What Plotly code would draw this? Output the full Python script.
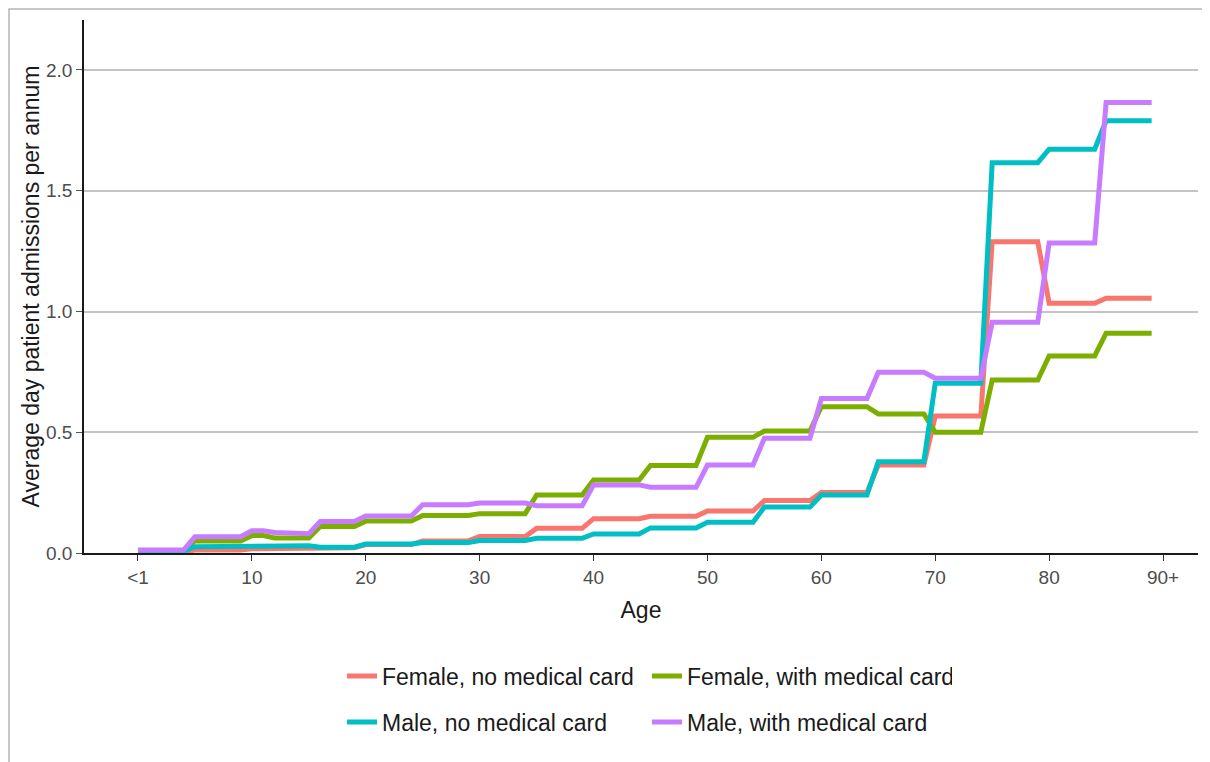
import plotly.graph_objects as go

AGES = list(range(90))
X_TICK_VALS = [0, 10, 20, 30, 40, 50, 60, 70, 80, 90]
X_TICK_TEXT = ["<1", "10", "20", "30", "40", "50", "60", "70", "80", "90+"]
Y_TICK_VALS = [0.0, 0.5, 1.0, 1.5, 2.0]
Y_TICK_TEXT = ["0.0", "0.5", "1.0", "1.5", "2.0"]

SERIES_NAMES = [
    "Female, no medical card",
    "Female, with medical card",
    "Male, no medical card",
    "Male, with medical card",
]
SERIES_COLORS = ["#F8766D", "#7CAE00", "#00BFC4", "#C77CFF"]

female_no_card = [
    0.005, 0.005, 0.005, 0.005, 0.005,
    0.012, 0.012, 0.012, 0.012, 0.012,
    0.018, 0.018, 0.018, 0.018, 0.018, 0.018,
    0.022, 0.022, 0.022, 0.022,
    0.035, 0.035, 0.035, 0.035, 0.035,
    0.050, 0.050, 0.050, 0.050, 0.050,
    0.068, 0.068, 0.068, 0.068, 0.068,
    0.102, 0.102, 0.102, 0.102, 0.102,
    0.142, 0.142, 0.142, 0.142, 0.142,
    0.152, 0.152, 0.152, 0.152, 0.152,
    0.174, 0.174, 0.174, 0.174, 0.174,
    0.217, 0.217, 0.217, 0.217, 0.217,
    0.250, 0.250, 0.250, 0.250, 0.250,
    0.364, 0.364, 0.364, 0.364, 0.364,
    0.567, 0.567, 0.567, 0.567, 0.567,
    1.289, 1.289, 1.289, 1.289, 1.289,
    1.034, 1.034, 1.034, 1.034, 1.034,
    1.055, 1.055, 1.055, 1.055, 1.055,
]

female_with_card = [
    0.010, 0.010, 0.010, 0.010, 0.010,
    0.050, 0.050, 0.050, 0.050, 0.050,
    0.072, 0.072, 0.062, 0.062, 0.062, 0.062,
    0.110, 0.110, 0.110, 0.110,
    0.132, 0.132, 0.132, 0.132, 0.132,
    0.155, 0.155, 0.155, 0.155, 0.155,
    0.163, 0.163, 0.163, 0.163, 0.163,
    0.240, 0.240, 0.240, 0.240, 0.240,
    0.302, 0.302, 0.302, 0.302, 0.302,
    0.362, 0.362, 0.362, 0.362, 0.362,
    0.479, 0.479, 0.479, 0.479, 0.479,
    0.505, 0.505, 0.505, 0.505, 0.505,
    0.606, 0.606, 0.606, 0.606, 0.606,
    0.576, 0.576, 0.576, 0.576, 0.576,
    0.500, 0.500, 0.500, 0.500, 0.500,
    0.716, 0.716, 0.716, 0.716, 0.716,
    0.816, 0.816, 0.816, 0.816, 0.816,
    0.910, 0.910, 0.910, 0.910, 0.910,
]

male_no_card = [
    0.008, 0.008, 0.008, 0.008, 0.008,
    0.026, 0.026, 0.026, 0.026, 0.026,
    0.030, 0.030, 0.030, 0.030, 0.030, 0.030,
    0.024, 0.024, 0.024, 0.024,
    0.037, 0.037, 0.037, 0.037, 0.037,
    0.043, 0.043, 0.043, 0.043, 0.043,
    0.052, 0.052, 0.052, 0.052, 0.052,
    0.061, 0.061, 0.061, 0.061, 0.061,
    0.079, 0.079, 0.079, 0.079, 0.079,
    0.104, 0.104, 0.104, 0.104, 0.104,
    0.127, 0.127, 0.127, 0.127, 0.127,
    0.190, 0.190, 0.190, 0.190, 0.190,
    0.240, 0.240, 0.240, 0.240, 0.240,
    0.378, 0.378, 0.378, 0.378, 0.378,
    0.703, 0.703, 0.703, 0.703, 0.703,
    1.616, 1.616, 1.616, 1.616, 1.616,
    1.672, 1.672, 1.672, 1.672, 1.672,
    1.790, 1.790, 1.790, 1.790, 1.790,
]

male_with_card = [
    0.012, 0.012, 0.012, 0.012, 0.012,
    0.067, 0.067, 0.067, 0.067, 0.067,
    0.092, 0.092, 0.085, 0.085, 0.085, 0.080,
    0.130, 0.130, 0.130, 0.130,
    0.153, 0.153, 0.153, 0.153, 0.153,
    0.200, 0.200, 0.200, 0.200, 0.200,
    0.207, 0.207, 0.207, 0.207, 0.207,
    0.196, 0.196, 0.196, 0.196, 0.196,
    0.282, 0.282, 0.282, 0.282, 0.282,
    0.272, 0.272, 0.272, 0.272, 0.272,
    0.364, 0.364, 0.364, 0.364, 0.364,
    0.475, 0.475, 0.475, 0.475, 0.475,
    0.640, 0.640, 0.640, 0.640, 0.640,
    0.748, 0.748, 0.748, 0.748, 0.748,
    0.724, 0.724, 0.724, 0.724, 0.724,
    0.955, 0.955, 0.955, 0.955, 0.955,
    1.284, 1.284, 1.284, 1.284, 1.284,
    1.865, 1.865, 1.865, 1.865, 1.865,
]

SERIES_VALUES = [female_no_card, female_with_card, male_no_card, male_with_card]
LEGEND_GROUP = ["legend", "legend", "legend2", "legend2"]

FONT = "Liberation Sans, Arial, Helvetica, sans-serif"

fig = go.Figure()
for name, vals, color, lg in zip(SERIES_NAMES, SERIES_VALUES, SERIES_COLORS, LEGEND_GROUP):
    fig.add_trace(go.Scatter(
        x=AGES, y=vals, mode="lines", name=name,
        line=dict(color=color, width=5),
        legend=lg,
    ))

legend_common = dict(
    orientation="h", xanchor="left", yanchor="middle",
    entrywidth=260, entrywidthmode="pixels",
    font=dict(family=FONT, size=23, color="#1a1a1a"),
    bgcolor="rgba(0,0,0,0)", borderwidth=0,
)

# The page adds an 8px body margin, so the figure is sized to fit the window.
fig.update_layout(
    width=1202, height=754,
    margin=dict(l=76, r=12, t=12, b=209),
    paper_bgcolor="white", plot_bgcolor="white",
    font=dict(family=FONT),
    legend=dict(x=0.2316, y=-0.2308, **legend_common),
    legend2=dict(x=0.2316, y=-0.317, **legend_common),
    xaxis=dict(
        range=[-4.74, 93.07], tickmode="array",
        tickvals=X_TICK_VALS, ticktext=X_TICK_TEXT,
        showgrid=False, zeroline=False,
        showline=True, linecolor="#1a1a1a", linewidth=1.5,
        ticks="outside", ticklen=6, tickwidth=1.3, tickcolor="#333333",
        tickfont=dict(family=FONT, size=19, color="#4d4d4d"),
        title=dict(text="Age", font=dict(family=FONT, size=23, color="#1a1a1a"), standoff=15),
    ),
    yaxis=dict(
        range=[0, 2.207], tickmode="array",
        tickvals=Y_TICK_VALS, ticktext=Y_TICK_TEXT,
        showgrid=True, gridcolor="#c4c4c4", gridwidth=1.6,
        zeroline=False,
        showline=True, linecolor="#1a1a1a", linewidth=1.5,
        ticks="outside", ticklen=6, tickwidth=1.3, tickcolor="#555555",
        tickfont=dict(family=FONT, size=19, color="#4d4d4d"),
        title=dict(text="Average day patient admissions per annum",
                   font=dict(family=FONT, size=23, color="#1a1a1a"), standoff=0),
    ),
    shapes=[dict(
        type="rect", xref="paper", yref="paper",
        x0=(9 - 84) / 1114, x1=(1208 - 84) / 1114,
        y0=(553 - 775) / 533, y1=(553 - 9) / 533,
        line=dict(color="#b5b5b5", width=1.5), fillcolor="rgba(0,0,0,0)", layer="below",
    )],
)

fig.write_html("out.html")
